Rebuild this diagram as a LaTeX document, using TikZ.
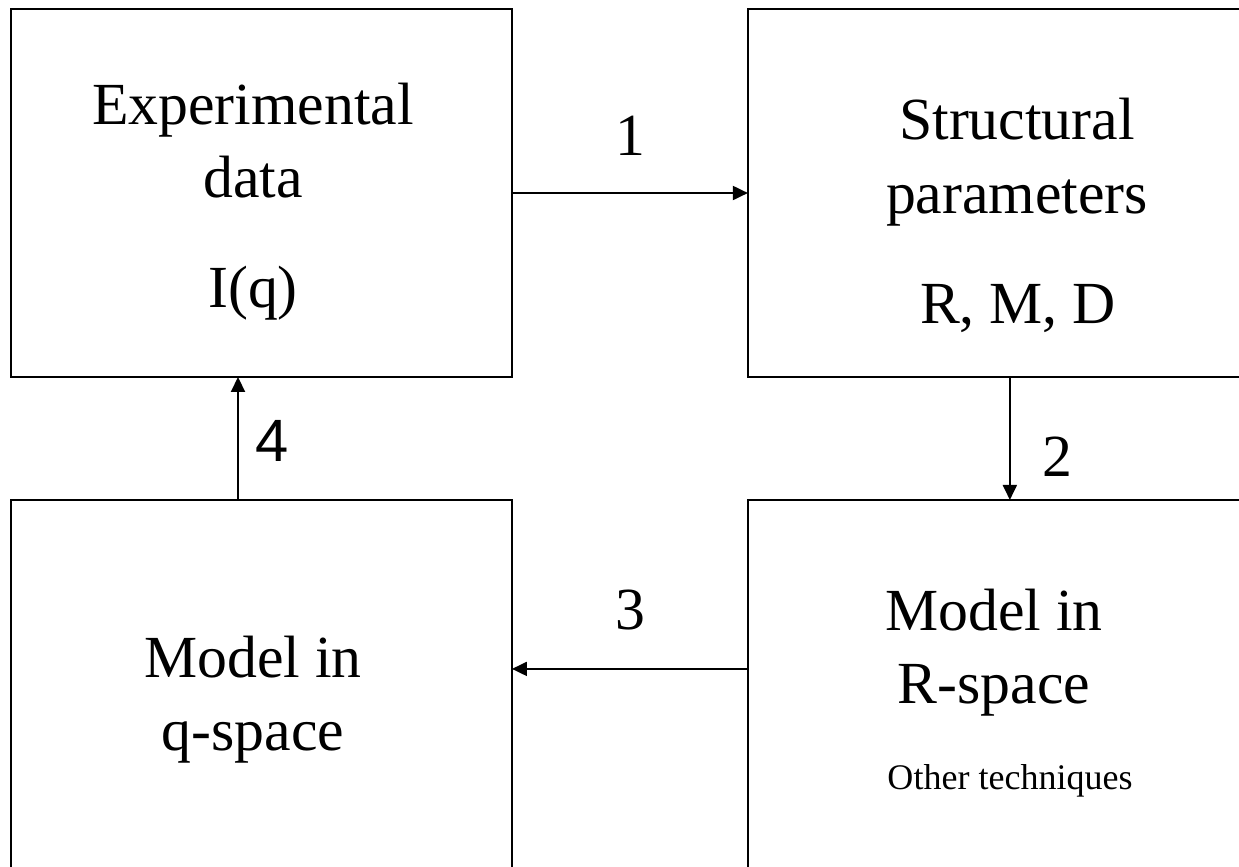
\documentclass[tikz,border=0pt]{standalone}
\usepackage{fontspec}
\setmainfont{Liberation Serif}
\newfontfamily\numsans{Liberation Sans}
\usepackage{tikz}
\usetikzlibrary{positioning, arrows.meta}

\begin{document}
\begin{tikzpicture}[x=0.02cm, y=-0.02cm, node distance=2.46cm and 4.72cm,
		box/.style={draw, line width=1.1pt, minimum width=10.02cm, minimum height=7.36cm, inner sep=0pt, outer sep=0pt},
		flow/.style={line width=1.1pt, -{Triangle[length=0.3cm, width=0.28cm]}},
		big/.style={anchor=base, inner sep=0pt, font=\fontsize{34}{41}\selectfont},
		small/.style={anchor=base, inner sep=0pt, font=\fontsize{20.5}{24}\selectfont}]
		\useasboundingbox (0,0) rectangle (1239,866);
		
		% Boxes
		\node[box] (exp) at (261.5,193) {};
		\node[box] (par) [right=of exp] {};
		\node[box] (qsp) [below=of exp] {};
		\node[box] (rsp) [below=of par] {};
		
		% Box texts
		\node[big] (expA) at (253,124) {Experimental};
		\node[big] (expB) at (253,197) {data};
		\node[big] (expC) at (253,307) {I(q)};
		\node[big] (parA) at (1017,139) {Structural};
		\node[big] (parB) at (1017,213) {parameters};
		\node[big] (parC) at (1018,323) {R, M, D};
		\node[big] (rspA) at (994,630) {Model in};
		\node[big] (rspB) at (994,703) {R-space};
		\node[small] (rspC) at (1010,789) {Other techniques};
		\node[big] (qspA) at (253,677) {Model in};
		\node[big] (qspB) at (253,750) {q-space};
		
		% Edges with Labels
		\draw[flow] (exp.east) -- (par.west) node[big, midway, yshift=0.76cm] {1};
		\draw[flow] ([xshift=0.23cm]par.south) -- ([xshift=0.23cm]rsp.north) node[big, midway, xshift=0.96cm, yshift=-0.77cm] {2};
		\draw[flow] ([yshift=0.3cm]rsp.west) -- ([yshift=0.3cm]qsp.east) node[big, midway, yshift=0.78cm] {3};
		\draw[flow] ([xshift=-0.47cm]qsp.north) -- ([xshift=-0.47cm]exp.south) node[big, midway, xshift=0.68cm, yshift=-0.47cm] {\numsans 4};
	\end{tikzpicture}
\end{document}
